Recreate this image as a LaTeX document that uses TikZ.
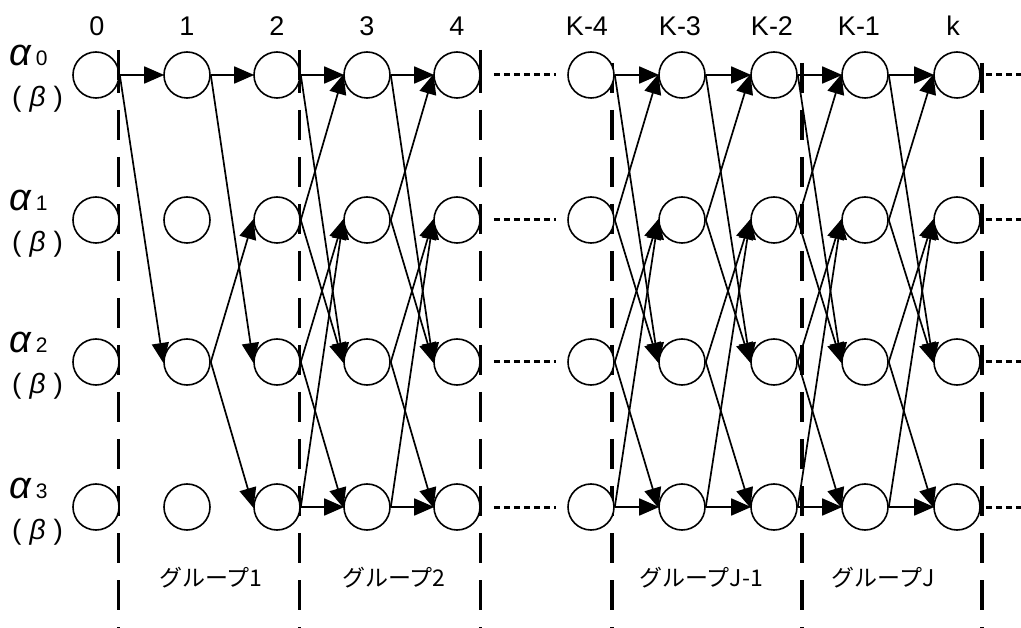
\documentclass[tikz,border=0pt]{standalone}
\usepackage{fontspec}
\setmainfont{Liberation Sans}
\newfontfamily\jpfont{Noto Sans CJK JP}
\usetikzlibrary{arrows.meta}
\begin{document}
\begin{tikzpicture}[x=1pt,y=-1pt,
  st/.style={draw, circle, minimum size=46pt, inner sep=0pt, line width=1.6pt},
  tr/.style={line width=1.7pt, -{Triangle[length=20pt,width=17pt]}, shorten >=-1pt},
  sep/.style={line width=3pt, dash pattern=on 30pt off 17pt, dash phase=-13pt},
  sepk/.style={sep, line width=4.5pt},
  dots/.style={line width=3pt, dash pattern=on 6pt off 4pt},
  col/.style={font=\fontsize{27}{27}\selectfont, inner sep=0pt},
  grp/.style={font=\jpfont\fontsize{23}{23}\selectfont, inner sep=0pt},
  lab/.style={anchor=base west, inner sep=0pt}]
\useasboundingbox (0,0) rectangle (1021,628);

% separators
\foreach \x in {118,299,480} \draw[sep] (\x,50) -- (\x,628);
\foreach \x in {612,802,982} \draw[sepk] (\x,50) -- (\x,628);

% states
\foreach \c/\x in {0/96,1/187,2/277,3/367,4/457,5/591,6/682,7/774,8/865,9/957} {
  \foreach \r/\y in {0/75,1/220,2/362,3/507} {
    \node[st, fill=white] (n\c\r) at (\x,\y) {};
  }
}
\foreach \x in {118,299,480} \draw[line width=3pt] (\x,50) -- (\x,80);

% column labels
\node[col] (t0) at (97,26) {0};
\node[col] (t1) at (187,26) {1};
\node[col] (t2) at (277,26) {2};
\node[col] (t3) at (367,26) {3};
\node[col] (t4) at (457,26) {4};
\node[col] (t5) at (587,26) {K-4};
\node[col] (t6) at (680,26) {K-3};
\node[col] (t7) at (772,26) {K-2};
\node[col] (t8) at (859,26) {K-1};
\node[col] (t9) at (953,26) {k};

% row labels
\foreach \r/\b in {0/66,1/211,2/353,3/498} {
  \node[lab] (a\r) at (9,\b) {\fontsize{38}{38}\selectfont\itshape α\hspace{5pt}\upshape\fontsize{21}{21}\selectfont\r};
  \node[lab] (b\r) at (12,\b+41) {\fontsize{28}{28}\selectfont(\hspace{8pt}\textit{β}\hspace{8pt})};
}

% group 1
\draw[tr] (n00.east) -- (n10.west);
\draw[tr] (n00.east) -- (n12.west);
\draw[tr] (n10.east) -- (n20.west);
\draw[tr] (n10.east) -- (n22.west);
\draw[tr] (n12.east) -- (n21.west);
\draw[tr] (n12.east) -- (n23.west);

% full trellis sections
\foreach \a/\b in {2/3,3/4,5/6,6/7,7/8,8/9} {
  \draw[tr] (n\a0.east) -- (n\b0.west);
  \draw[tr] (n\a0.east) -- (n\b2.west);
  \draw[tr] (n\a1.east) -- (n\b0.west);
  \draw[tr] (n\a1.east) -- (n\b2.west);
  \draw[tr] (n\a2.east) -- (n\b1.west);
  \draw[tr] (n\a2.east) -- (n\b3.west);
  \draw[tr] (n\a3.east) -- (n\b1.west);
  \draw[tr] (n\a3.east) -- (n\b3.west);
}

% continuation dots
\foreach \r in {0,1,2,3} {
  \draw[dots] ([xshift=13pt]n4\r.east) -- ([xshift=-11pt]n5\r.west);
  \draw[dots] ([xshift=5pt]n9\r.east) -- ++(36,0);
}

% group labels
\node[grp] (g1) at (211,578) {グループ1};
\node[grp] (g2) at (394,578) {グループ2};
\node[grp] (g3) at (701,578) {グループJ-1};
\node[grp] (g4) at (883,578) {グループJ};
\end{tikzpicture}
\end{document}
